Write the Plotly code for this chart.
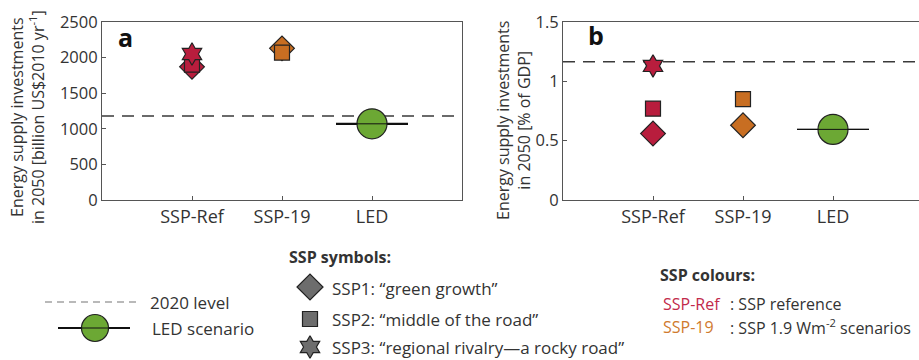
import plotly.graph_objects as go

# ---- data -------------------------------------------------------------
categories = ["SSP-Ref", "SSP-19", "LED"]

# panel a: energy supply investments in 2050 [billion US$2010 / yr]
a_ssp1 = [1870, 2130]      # SSP-Ref, SSP-19
a_ssp2 = [1900, 2070]
a_ssp3 = [2050]            # SSP-Ref only
a_led = 1070
a_2020 = 1180

# panel b: energy supply investments in 2050 [% of GDP]
b_ssp1 = [0.56, 0.63]
b_ssp2 = [0.77, 0.85]
b_ssp3 = [1.13]
b_led = 0.595
b_2020 = 1.165

# ---- style ------------------------------------------------------------
RED = "#b81d3d"
ORANGE = "#c86e22"
GREEN = "#6ca834"
GREY_SYM = "#6d6d6d"
TXT = "#333333"
AX = "#555555"
FONT = "Open Sans"

W, H = 919, 360
KEY_TOP = 240  # pixel row where the key area starts


def px(x):
    return x / W


def py(y):
    return 1 - y / H


fig = go.Figure()

ssp_colours = [RED, ORANGE]
mk_line = dict(color="#222222", width=1.2)


def add_panel(xa, ya, s1, s2, s3, led, ref2020, xmax, led_w):
    # 2020 reference level
    fig.add_trace(go.Scatter(x=[0, xmax], y=[ref2020, ref2020], mode="lines",
                             line=dict(color="#3a3a3a", width=1.6, dash="12px,8px"),
                             xaxis=xa, yaxis=ya, hoverinfo="skip"))
    # SSP1 diamonds
    fig.add_trace(go.Scatter(x=[1, 2][:len(s1)], y=s1, mode="markers",
                             marker=dict(symbol="diamond", size=19, color=ssp_colours[:len(s1)], line=mk_line),
                             xaxis=xa, yaxis=ya))
    # SSP2 squares
    fig.add_trace(go.Scatter(x=[1, 2][:len(s2)], y=s2, mode="markers",
                             marker=dict(symbol="square", size=15, color=ssp_colours[:len(s2)], line=mk_line),
                             xaxis=xa, yaxis=ya))
    # SSP3 stars
    fig.add_trace(go.Scatter(x=[1][:len(s3)], y=s3, mode="markers",
                             marker=dict(symbol="hexagram", size=17, color=ssp_colours[:len(s3)], line=mk_line),
                             xaxis=xa, yaxis=ya))
    # LED scenario: bar line plus circle
    fig.add_trace(go.Scatter(x=[2.6, 3.4], y=[led, led], mode="lines",
                             line=dict(color="#111111", width=led_w),
                             xaxis=xa, yaxis=ya))
    fig.add_trace(go.Scatter(x=[3], y=[led], mode="markers",
                             marker=dict(symbol="circle", size=30, color=GREEN, line=mk_line),
                             xaxis=xa, yaxis=ya))
    fig.add_trace(go.Scatter(x=[2.6, 3.4], y=[led, led], mode="lines",
                             line=dict(color="#111111", width=1),
                             xaxis=xa, yaxis=ya))


add_panel("x", "y", a_ssp1, a_ssp2, a_ssp3, a_led, a_2020, 4, 2.2)
add_panel("x2", "y2", b_ssp1, b_ssp2, b_ssp3, b_led, b_2020, 4, 1.3)

axis_common = dict(showline=True, linecolor=AX, linewidth=1, mirror=True,
                   ticks="inside", ticklen=4, tickcolor=AX, showgrid=False,
                   zeroline=False, automargin=False)
xtick_font = dict(family=FONT, size=18, color=TXT)
ytick_font = dict(family=FONT, size=16.5, color=TXT)

x_dom_a = [px(102), px(462)]
x_dom_b = [px(563), 1.0]
y_dom = [py(200), py(22)]

fig.update_layout(
    width=W, height=H, margin=dict(l=0, r=0, t=0, b=0, pad=0, autoexpand=False),
    paper_bgcolor="white", plot_bgcolor="rgba(0,0,0,0)", showlegend=False,
    font=dict(family=FONT, color=TXT),
    xaxis=dict(domain=x_dom_a, range=[0, 4], tickvals=[1, 2, 3], ticktext=categories,
               anchor="y", tickfont=xtick_font, **axis_common),
    yaxis=dict(domain=y_dom, range=[0, 2500], tickvals=[0, 500, 1000, 1500, 2000, 2500],
               anchor="x", tickfont=ytick_font, **axis_common),
    xaxis2=dict(domain=x_dom_b, range=[0, (W - 563) / 90], tickvals=[1, 2, 3], ticktext=categories,
                anchor="y2", tickfont=xtick_font, **axis_common),
    yaxis2=dict(domain=y_dom, range=[0, 1.5], tickvals=[0, 0.5, 1, 1.5], ticktext=["0", "0.5", "1", "1.5"],
                anchor="x2", tickfont=ytick_font, **axis_common),
    # helper axes in pixel units for the key below the panels
    xaxis3=dict(domain=[0, 1], range=[0, W], visible=False, anchor="y3", automargin=False),
    yaxis3=dict(domain=[0, py(KEY_TOP)], range=[H, KEY_TOP], visible=False, anchor="x3", automargin=False),
)

# ---- key --------------------------------------------------------------
fig.add_trace(go.Scatter(x=[45, 138], y=[302, 302], mode="lines",
                         line=dict(color="#a3a3a3", width=1.6, dash="7px,5px"),
                         xaxis="x3", yaxis="y3", hoverinfo="skip"))
fig.add_trace(go.Scatter(x=[58, 130], y=[328, 328], mode="lines",
                         line=dict(color="#111111", width=2),
                         xaxis="x3", yaxis="y3", hoverinfo="skip"))
fig.add_trace(go.Scatter(x=[95], y=[328], mode="markers",
                         marker=dict(symbol="circle", size=27, color=GREEN, line=mk_line),
                         xaxis="x3", yaxis="y3", hoverinfo="skip"))
fig.add_trace(go.Scatter(x=[58, 130], y=[328, 328], mode="lines",
                         line=dict(color="#111111", width=1),
                         xaxis="x3", yaxis="y3", hoverinfo="skip"))
for sym, size, yy in [("diamond", 20, 287), ("square", 15, 319), ("hexagram", 17, 347)]:
    fig.add_trace(go.Scatter(x=[310], y=[yy], mode="markers",
                             marker=dict(symbol=sym, size=size, color=GREY_SYM, line=mk_line),
                             xaxis="x3", yaxis="y3", hoverinfo="skip", cliponaxis=False))

ann = []


def text(x, y, s, size=16, color=TXT, xanchor="left", angle=0, bold=False):
    if bold:
        s = f"<b>{s}</b>"
    ann.append(dict(x=px(x), y=py(y), xref="paper", yref="paper", text=s, showarrow=False,
                    xanchor=xanchor, yanchor="middle", textangle=angle,
                    font=dict(family=FONT, size=size, color=color)))


# panel letters
text(116, 37, "a", size=25, color="#111111", bold=True)
text(586, 35, "b", size=25, color="#111111", bold=True)

# y-axis titles
text(28, 117, "Energy supply investments<br>in 2050 [billion US$2010 yr<sup>-1</sup>]",
     size=16, xanchor="center", angle=-90)
text(513, 121, "Energy supply investments<br>in 2050 [% of GDP]",
     size=16, xanchor="center", angle=-90)

# key texts
text(148, 302, "2020 level", size=17)
text(150, 328, "LED scenario", size=17)
text(287, 257, "SSP symbols:", bold=True)
text(330, 288, "SSP1: “green growth”", size=17)
text(330, 319, "SSP2: “middle of the road”", size=17)
text(330, 347, "SSP3: “regional rivalry—a rocky road”", size=17)
text(658, 275, "SSP colours:", bold=True)
text(661, 304, "SSP-Ref", color="#c22a4a")
text(661, 327, "SSP-19", color="#d07a2e")
text(728, 304, ": SSP reference")
text(728, 327, ": SSP 1.9 Wm<sup>-2</sup> scenarios")

fig.update_layout(annotations=ann)

fig.write_html("out.html")
